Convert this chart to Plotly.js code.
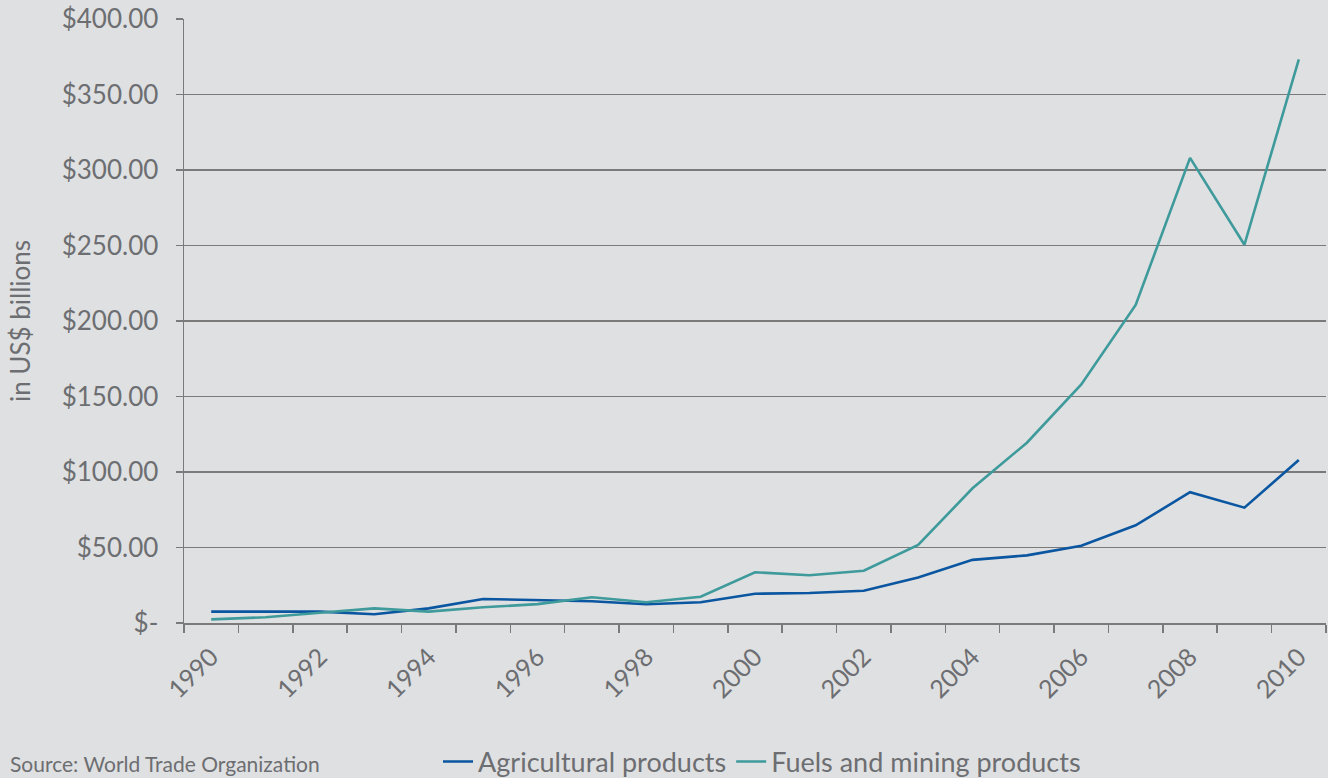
<!DOCTYPE html>
<html>
<head>
<meta charset="utf-8">
<script src="https://cdn.plot.ly/plotly-3.0.1.min.js"></script>
<style>
  html, body { margin: 0; padding: 0; background: #dfe0e2; }
  #chart { width: 1328px; height: 778px; }
</style>
</head>
<body>
<div id="chart"></div>
<script>
const years = [1990,1991,1992,1993,1994,1995,1996,1997,1998,1999,2000,2001,2002,2003,2004,2005,2006,2007,2008,2009,2010];
const agricultural = [7.5,7.5,7.5,5.8,9.7,15.9,15.2,14.4,12.4,13.7,19.4,19.9,21.4,30.2,41.8,44.8,51.2,64.7,86.6,76.4,108.0];
const fuelsMining = [2.4,3.8,6.8,9.7,7.5,10.4,12.5,17.0,13.7,17.4,33.6,31.6,34.6,51.7,89.2,119.4,158.0,210.6,308.0,250.5,373.3];
const seriesNames = ["Agricultural products", "Fuels and mining products"];
const xTickYears = [1990,1992,1994,1996,1998,2000,2002,2004,2006,2008,2010];
const xTickLabels = ["1990","1992","1994","1996","1998","2000","2002","2004","2006","2008","2010"];
const yTickVals = [0,50,100,150,200,250,300,350,400];
const yTickLabels = ["$-","$50.00","$100.00","$150.00","$200.00","$250.00","$300.00","$350.00","$400.00"];
const yTitle = "in US$ billions";
const sourceText = "Source: World Trade Organization";

const textColor = "#6d6e71";
const gridColor = "#7a7a7a";
const font = "Lato, 'Open Sans', sans-serif";

const boundaries = years.map(y => y - 0.5).concat([years[years.length - 1] + 0.5]);

const traces = [
  { x: years, y: agricultural, name: seriesNames[0], type: "scatter", mode: "lines",
    line: { color: "#0a56a0", width: 2.6 } },
  { x: years, y: fuelsMining, name: seriesNames[1], type: "scatter", mode: "lines",
    line: { color: "#3e9a9b", width: 2.6 } }
];

const layout = {
  width: 1328, height: 778,
  paper_bgcolor: "#dfe0e2", plot_bgcolor: "#dfe0e2",
  margin: { l: 184, r: 2, t: 19, b: 155, autoexpand: false },
  font: { family: font, color: textColor },
  showlegend: true,
  legend: {
    orientation: "h", xref: "container", yref: "container",
    x: 438 / 1328, xanchor: "left", y: (778 - 762) / 778, yanchor: "middle",
    font: { size: 27, color: textColor, family: font },
    bgcolor: "rgba(0,0,0,0)", itemwidth: 30, tracegroupgap: 0
  },
  xaxis: {
    range: [boundaries[0], boundaries[boundaries.length - 1]],
    tickmode: "array", tickvals: xTickYears, ticktext: xTickLabels,
    tickangle: -45, ticks: "", tickfont: { size: 25, color: textColor },
    ticklabelstandoff: 8,
    showgrid: false, zeroline: false,
    showline: true, linecolor: gridColor, linewidth: 1.5,
    minor: { tickmode: "array", tickvals: boundaries, ticks: "outside", ticklen: 8,
             tickcolor: gridColor, tickwidth: 1.5, showgrid: false },
    automargin: false, fixedrange: true
  },
  yaxis: {
    range: [0, 400],
    tickmode: "array", tickvals: yTickVals, ticktext: yTickLabels,
    ticks: "outside", ticklen: 7, tickcolor: gridColor, tickwidth: 1.5,
    tickfont: { size: 26, color: textColor },
    ticklabelstandoff: 12,
    showgrid: true, gridcolor: gridColor, gridwidth: 1.5,
    zeroline: false, showline: true, linecolor: gridColor, linewidth: 1.5,
    title: { text: yTitle, font: { size: 26, color: textColor }, standoff: 23 },
    automargin: false, fixedrange: true
  },
  annotations: [
    { text: sourceText, xref: "paper", yref: "paper", x: (8 - 184) / 1142, y: (623 - 763) / 604,
      xanchor: "left", yanchor: "middle", showarrow: false,
      font: { size: 21, color: textColor, family: font } }
  ]
};

Plotly.newPlot("chart", traces, layout, { displayModeBar: false, staticPlot: true });
</script>
</body>
</html>
